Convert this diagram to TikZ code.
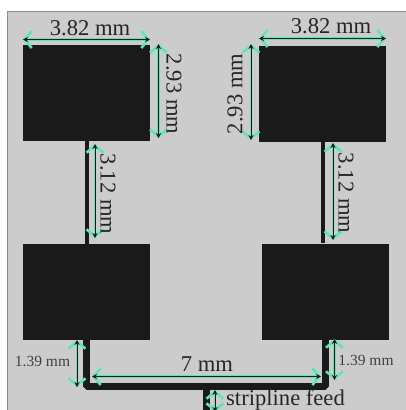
\documentclass[tikz,border=0pt]{standalone}
\usepackage{fontspec}
\setmainfont{Liberation Serif}
\usetikzlibrary{arrows.meta}

\definecolor{board}{HTML}{CCCCCC}
\definecolor{metal}{HTML}{1A1A1A}
\definecolor{mint}{HTML}{5CE6B8}

\begin{document}
\begin{tikzpicture}[x=1pt, y=-1pt,
        patch/.style = {fill=metal, inner sep=0pt, minimum width=127pt, minimum height=96pt},
        feed/.style = {draw=metal, line width=7pt, line join=bevel},
        arm/.style = {draw=metal, line width=4pt},
        dim/.style = {draw=black!90, line width=1pt, {Stealth[length=5pt,width=5pt]}-{Stealth[length=5pt,width=5pt]},
            preaction={draw=mint, line width=2.6pt, {Straight Barb[length=7pt,width=17pt]}-{Straight Barb[length=7pt,width=17pt]}}},
        big/.style = {font=\fontsize{22.6pt}{25pt}\selectfont, text=black!85, inner sep=0pt},
        small/.style = {font=\fontsize{15.5pt}{17pt}\selectfont, text=black!75, inner sep=0pt}]
                \useasboundingbox (0, 0) rectangle (406, 410);
                \fill[white] (0, 0) rectangle (406, 410);
                \filldraw[fill=board, draw=black!45, line width=.8pt] (7, 11) rectangle (412, 416);

                \node[patch] at (86.5, 93) (PatchTL) {};
                \node[patch] at (322.5, 93.5) (PatchTR) {};
                \node[patch] at (86.5, 292) (PatchBL) {};
                \node[patch] at (325.5, 291.5) (PatchBR) {};

                \coordinate (FeedL) at (86.5, 386.5);
                \coordinate (FeedR) at (325.5, 386.5);
                \coordinate (FeedM) at (206.5, 386.5);
                \coordinate (FeedEnd) at (206.5, 412);

                \draw [arm] (PatchTL.south) -- (PatchBL.north);
                \draw [arm] (PatchTR.south) -- (PatchBR.north -| PatchTR.south);
                \draw [feed] (PatchBL.south) -- (FeedL) -- (FeedR) -- (PatchBR.south);
                \draw [feed] (FeedM) -- (FeedEnd);

                % top row
                \coordinate (WidthLa) at (23, 39.5);
                \coordinate (WidthLb) at (150, 39.5);
                \coordinate (WidthRa) at (259, 38.5);
                \coordinate (WidthRb) at (386, 38.5);
                \coordinate (HeightLa) at (158.5, 44);
                \coordinate (HeightLb) at (158.5, 138);
                \coordinate (HeightRa) at (251, 44);
                \coordinate (HeightRb) at (251, 140);
                \draw [dim] (WidthLa) -- (WidthLb);
                \draw [dim] (WidthRa) -- (WidthRb);
                \draw [dim] (HeightLa) -- (HeightLb);
                \draw [dim] (HeightRa) -- (HeightRb);
                \node[big] at (90, 28.5) (LabelWidthL) {3.82 mm};
                \node[big] at (331, 26.5) (LabelWidthR) {3.82 mm};
                \node[big, rotate=-90] at (174, 94) (LabelHeightL) {2.93 mm};
                \node[big, rotate=90] at (235, 94) (LabelHeightR) {2.93 mm};

                % middle
                \coordinate (GapLa) at (95, 144);
                \coordinate (GapLb) at (95, 238);
                \coordinate (GapRa) at (333, 143);
                \coordinate (GapRb) at (333, 240);
                \draw [dim] (GapLa) -- (GapLb);
                \draw [dim] (GapRa) -- (GapRb);
                \node[big, rotate=-90] at (108, 194) (LabelGapL) {3.12 mm};
                \node[big, rotate=-90] at (346, 193) (LabelGapR) {3.12 mm};

                % feed network
                \coordinate (StubLa) at (77, 340);
                \coordinate (StubLb) at (77, 387);
                \coordinate (StubRa) at (334.5, 339);
                \coordinate (StubRb) at (334.5, 380);
                \coordinate (SpanA) at (92, 376.5);
                \coordinate (SpanB) at (321, 376.5);
                \coordinate (StripA) at (215, 390);
                \coordinate (StripB) at (215, 412);
                \draw [dim] (StubLa) -- (StubLb);
                \draw [dim] (StubRa) -- (StubRb);
                \draw [dim] (SpanA) -- (SpanB);
                \draw [dim] (StripA) -- (StripB);
                \node[small] at (42.5, 361.5) (LabelStubL) {1.39 mm};
                \node[small] at (366, 360) (LabelStubR) {1.39 mm};
                \node[big] at (207, 364) (LabelSpan) {7 mm};
                \node[big, anchor=west] at (226, 400) (LabelStrip) {stripline feed};
            \end{tikzpicture}
\end{document}
